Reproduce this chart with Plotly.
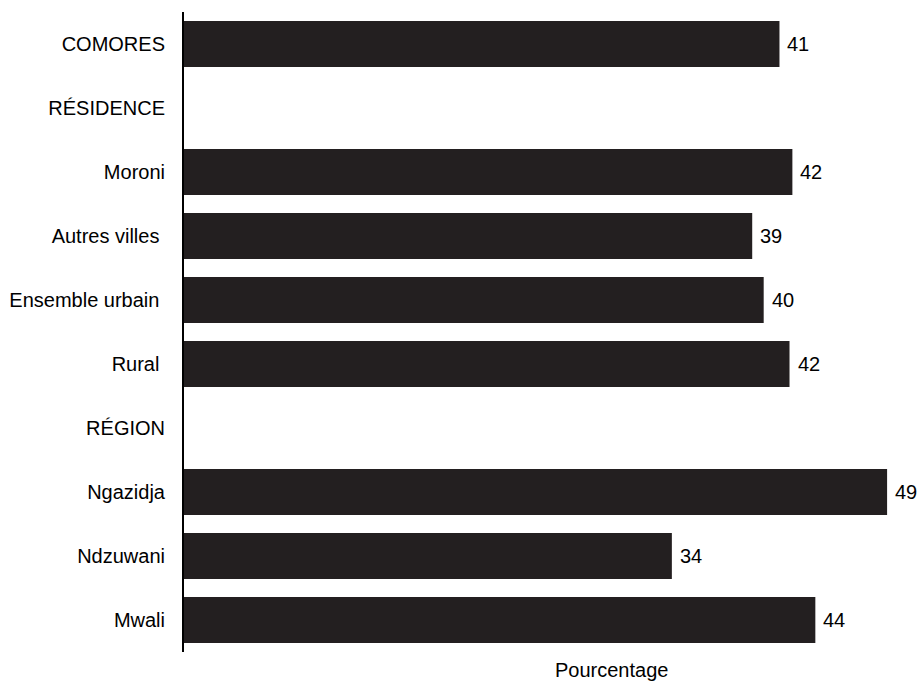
import plotly.graph_objects as go

categories = ["COMORES", "RÉSIDENCE", "Moroni", "Autres villes\u00a0", "Ensemble urbain\u00a0",
              "Rural\u00a0", "RÉGION", "Ngazidja", "Ndzuwani", "Mwali"]
values = [41.5, None, 42.4, 39.6, 40.4, 42.2, None, 49.0, 34.0, 44.0]
value_labels = ["41", "", "42", "39", "40", "42", "", "49", "34", "44"]
axis_title = "Pourcentage"

FONT = "Liberation Sans, Arial, sans-serif"
BAR = "#231f20"

fig = go.Figure()
fig.add_trace(go.Bar(
    y=categories, x=values, orientation="h",
    marker=dict(color=BAR, line=dict(width=0)),
    hoverinfo="skip", cliponaxis=False,
))

for c, v, t in zip(categories, values, value_labels):
    if v is None:
        continue
    fig.add_annotation(x=v, y=c, xref="x", yref="y", text=t, showarrow=False,
                       xanchor="left", yanchor="middle", xshift=6,
                       font=dict(family=FONT, size=20, color="black"))

fig.add_annotation(x=(611 - 184) / 716, y=0, xref="paper", yref="paper",
                   text=axis_title, showarrow=False, xanchor="center", yanchor="middle",
                   yshift=-18, font=dict(family=FONT, size=20, color="black"))

fig.update_layout(
    width=919, height=681,
    margin=dict(l=184, r=19, t=12, b=29, autoexpand=False),
    paper_bgcolor="white", plot_bgcolor="white",
    bargap=0.28, showlegend=False,
    font=dict(family=FONT, size=20, color="black"),
    xaxis=dict(range=[0, 49.9], showgrid=False, zeroline=False, showline=False,
               showticklabels=False, ticks="", automargin=False),
    yaxis=dict(autorange="reversed", showgrid=False, zeroline=False, automargin=False,
               showline=True, linecolor="black", linewidth=2, ticks="",
               ticklabelstandoff=13, tickfont=dict(family=FONT, size=20, color="black")),
)

fig.write_html(
    "out.html",
    config={"displayModeBar": False},
    post_script="document.body.style.margin='0';document.body.style.overflow='hidden';",
)
